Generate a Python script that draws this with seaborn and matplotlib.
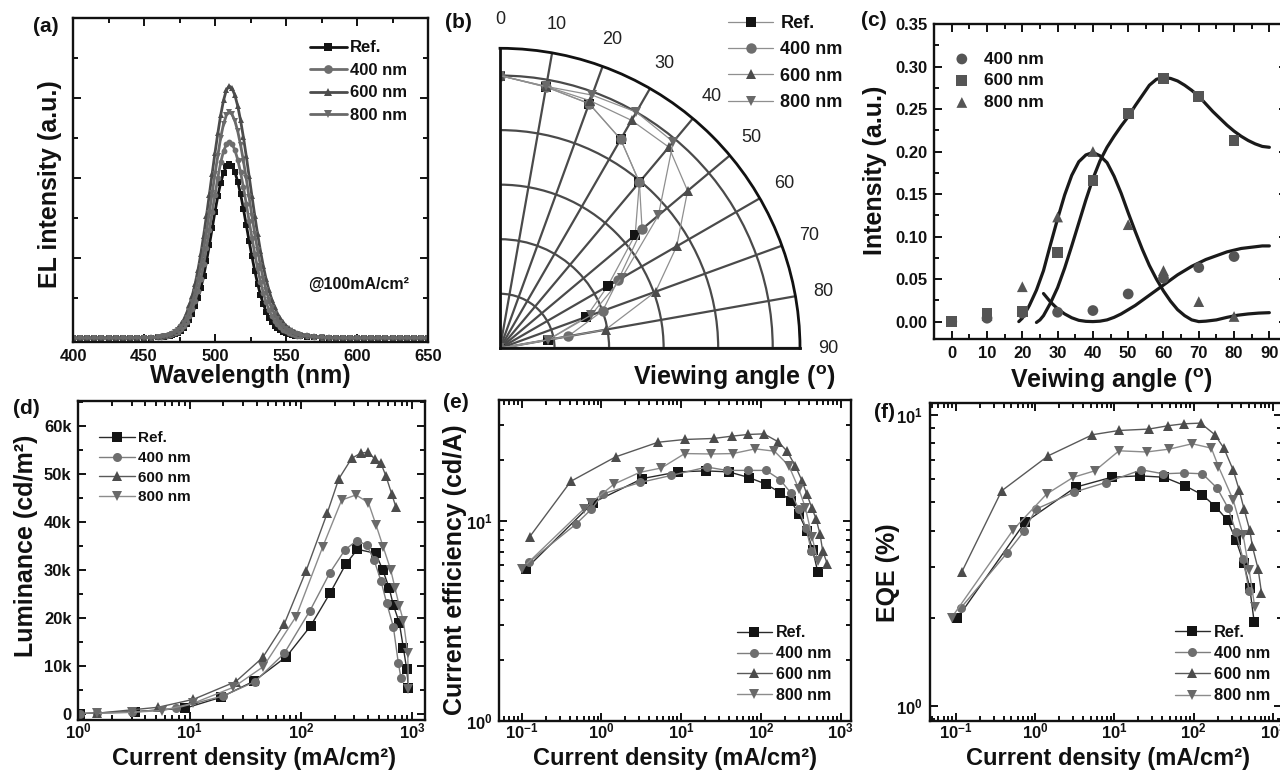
import numpy as np
import matplotlib
matplotlib.use("Agg")
import matplotlib.pyplot as plt
import seaborn as sns
from matplotlib.ticker import FixedLocator, FixedFormatter, NullFormatter, MultipleLocator, LogLocator

# ---------------------------------------------------------------- data
SERIES = ["Ref.", "400 nm", "600 nm", "800 nm"]

# (a) EL spectra @100 mA/cm2 (arbitrary units)
WL_LEFT = [400, 405, 410, 415, 420, 425, 430, 435, 440, 445, 450, 455]
WL_PEAK = [460, 462, 464, 466, 468, 470, 472, 474, 476, 478, 480, 482, 484, 486, 488, 490, 492, 494, 496,
           498, 500, 502, 504, 506, 508, 510, 512, 514, 516, 518, 520, 522, 524, 526, 528, 530, 532, 534,
           536, 538, 540, 542, 544, 546, 548, 550, 552, 554, 556, 558, 560]
WL_RIGHT = [565, 570, 575, 580, 585, 590, 595, 600, 605, 610, 615, 620, 625, 630, 635, 640, 645, 650]

EL_LEFT = {
    "Ref.":   [0.000, 0.000, 0.000, 0.000, 0.000, 0.000, 0.000, 0.000, 0.000, 0.000, 0.001, 0.001],
    "400 nm": [0.000, 0.000, 0.000, 0.000, 0.000, 0.000, 0.000, 0.000, 0.000, 0.000, 0.001, 0.001],
    "600 nm": [0.000, 0.000, 0.000, 0.000, 0.000, 0.000, 0.000, 0.000, 0.000, 0.001, 0.001, 0.002],
    "800 nm": [0.000, 0.000, 0.000, 0.000, 0.000, 0.000, 0.000, 0.000, 0.000, 0.001, 0.001, 0.001],
}
EL_PEAK = {
    "Ref.": [0.002, 0.002, 0.003, 0.004, 0.005, 0.007, 0.009, 0.012, 0.017, 0.024, 0.034, 0.046, 0.061,
             0.079, 0.100, 0.125, 0.155, 0.192, 0.232, 0.274, 0.316, 0.355, 0.388, 0.413, 0.429, 0.435,
             0.430, 0.415, 0.391, 0.360, 0.323, 0.283, 0.243, 0.204, 0.168, 0.136, 0.108, 0.085, 0.066,
             0.051, 0.040, 0.031, 0.024, 0.019, 0.015, 0.012, 0.010, 0.008, 0.006, 0.005, 0.004],
    "400 nm": [0.002, 0.003, 0.004, 0.005, 0.007, 0.009, 0.012, 0.016, 0.022, 0.030, 0.041, 0.055, 0.072,
               0.093, 0.118, 0.148, 0.184, 0.226, 0.270, 0.315, 0.358, 0.401, 0.439, 0.467, 0.484, 0.490,
               0.485, 0.470, 0.446, 0.414, 0.377, 0.336, 0.293, 0.251, 0.211, 0.174, 0.141, 0.113, 0.089,
               0.070, 0.055, 0.043, 0.034, 0.027, 0.021, 0.017, 0.013, 0.010, 0.008, 0.006, 0.005],
    "600 nm": [0.003, 0.004, 0.005, 0.007, 0.010, 0.013, 0.018, 0.025, 0.034, 0.046, 0.062, 0.082, 0.106,
               0.135, 0.170, 0.210, 0.256, 0.306, 0.358, 0.411, 0.463, 0.512, 0.557, 0.594, 0.620, 0.630,
               0.624, 0.607, 0.580, 0.544, 0.502, 0.455, 0.405, 0.355, 0.306, 0.260, 0.218, 0.180, 0.147,
               0.119, 0.096, 0.077, 0.061, 0.049, 0.039, 0.031, 0.025, 0.020, 0.016, 0.013, 0.010],
    "800 nm": [0.002, 0.003, 0.004, 0.006, 0.008, 0.011, 0.015, 0.020, 0.028, 0.038, 0.051, 0.068, 0.089,
               0.114, 0.144, 0.180, 0.221, 0.266, 0.313, 0.362, 0.410, 0.456, 0.501, 0.535, 0.557, 0.565,
               0.559, 0.543, 0.517, 0.483, 0.443, 0.399, 0.352, 0.306, 0.261, 0.219, 0.181, 0.148, 0.119,
               0.095, 0.075, 0.059, 0.047, 0.037, 0.029, 0.023, 0.018, 0.014, 0.011, 0.009, 0.007],
}
EL_RIGHT = {
    "Ref.":   [0.003, 0.002, 0.001, 0.000, 0.000, 0.000, 0.000, 0.000, 0.000, 0.000, 0.000, 0.000, 0.000, 0.000, 0.000, 0.000, 0.000, 0.000],
    "400 nm": [0.004, 0.002, 0.001, 0.000, 0.000, 0.000, 0.000, 0.000, 0.000, 0.000, 0.000, 0.000, 0.000, 0.000, 0.000, 0.000, 0.000, 0.000],
    "600 nm": [0.007, 0.004, 0.003, 0.002, 0.001, 0.000, 0.000, 0.000, 0.000, 0.000, 0.000, 0.000, 0.000, 0.000, 0.000, 0.000, 0.000, 0.000],
    "800 nm": [0.005, 0.003, 0.002, 0.001, 0.000, 0.000, 0.000, 0.000, 0.000, 0.000, 0.000, 0.000, 0.000, 0.000, 0.000, 0.000, 0.000, 0.000],
}

# (b) normalized angular intensity
ANGLES_B = [0, 10, 20, 30, 40, 50, 60, 70, 80, 90]
POLAR_B = {
    "Ref.":   [1.0, 0.973, 0.955, 0.885, 0.795, 0.647, 0.456, 0.336, 0.178, 0.0],
    "400 nm": [1.0, 0.973, 0.955, 0.885, 0.795, 0.680, 0.500, 0.400, 0.253, 0.0],
    "600 nm": [1.0, 0.975, 0.966, 0.965, 0.963, 0.898, 0.748, 0.607, 0.393, 0.0],
    "800 nm": [1.0, 0.975, 0.988, 1.000, 0.988, 0.758, 0.515, 0.355, 0.180, 0.0],
}
ANGLE_LABELS_B = [0, 10, 20, 30, 40, 50, 60, 70, 80, 90]

# (c) intensity difference vs viewing angle + fitted curves
ANGLES_C = [0, 10, 20, 30, 40, 50, 60, 70, 80]
INT_C = {
    "400 nm": [0.000, 0.004, 0.010, 0.011, 0.013, 0.0325, 0.051, 0.0635, 0.0765],
    "600 nm": [0.000, 0.0095, 0.0118, 0.081, 0.166, 0.245, 0.286, 0.265, 0.213],
    "800 nm": [0.000, 0.007, 0.041, 0.123, 0.200, 0.114, 0.060, 0.0235, 0.006],
}
FIT400_X = [26, 28, 30, 32, 34, 36, 38, 40, 42, 44, 46, 48, 50, 52, 54, 56, 58, 60, 62, 64, 66, 68, 70,
            72, 74, 76, 78, 80, 82, 84, 86, 88, 90]
FIT400_Y = [0.033, 0.023, 0.015, 0.009, 0.0045, 0.0015, 0.0003, 0.0, 0.0005, 0.002, 0.005, 0.009, 0.014,
            0.019, 0.025, 0.031, 0.037, 0.043, 0.049, 0.055, 0.060, 0.065, 0.069, 0.073, 0.076, 0.079,
            0.082, 0.084, 0.086, 0.087, 0.088, 0.089, 0.089]
FIT600_X = [24, 25, 26, 28, 30, 32, 34, 36, 38, 40, 42, 44, 46, 48, 50, 52, 54, 56, 58, 60, 62, 64, 66,
            68, 70, 72, 74, 76, 78, 80, 82, 84, 86, 88, 90]
FIT600_Y = [-0.001, 0.002, 0.007, 0.022, 0.040, 0.063, 0.089, 0.116, 0.143, 0.168, 0.189, 0.205, 0.218,
            0.230, 0.241, 0.254, 0.266, 0.278, 0.285, 0.287, 0.286, 0.283, 0.278, 0.272, 0.265, 0.256,
            0.247, 0.239, 0.231, 0.224, 0.218, 0.213, 0.209, 0.206, 0.205]
FIT800_X = [19, 20, 22, 24, 26, 28, 30, 32, 34, 36, 38, 40, 42, 44, 46, 48, 50, 52, 54, 56, 58, 60, 62,
            64, 66, 68, 70, 72, 75, 78, 81, 84, 87, 90]
FIT800_Y = [0.000, 0.004, 0.019, 0.037, 0.060, 0.091, 0.121, 0.149, 0.172, 0.188, 0.196, 0.199, 0.195,
            0.187, 0.171, 0.151, 0.128, 0.106, 0.085, 0.066, 0.050, 0.036, 0.024, 0.014, 0.007, 0.002,
            0.000, 0.0005, 0.002, 0.005, 0.0075, 0.009, 0.010, 0.0105]

# (d) luminance vs current density
LUM_X = {
    "Ref.":   [1.03, 3.2, 9.1, 19.1, 38, 74, 122, 182, 252, 321, 469, 542, 618, 675, 764, 830, 891, 923],
    "400 nm": [1.03, 1.46, 3.0, 7.5, 20, 38.6, 70.8, 120.5, 182, 248, 316, 389, 453, 523, 589, 675, 748, 791],
    "600 nm": [1.46, 5.2, 10.8, 25.9, 45.3, 70.8, 111, 172.5, 218, 285, 344, 403, 462, 520, 580, 653, 714],
    "800 nm": [1.46, 3.0, 5.6, 10.8, 24.7, 45.9, 90.2, 157, 232, 312, 403, 472, 549, 640, 700, 764, 830, 910, 923],
}
LUM_Y = {
    "Ref.":   [150, 540, 1250, 3530, 6920, 11980, 18360, 25150, 31180, 34300, 33460, 30000, 26330, 22720,
               19050, 13850, 9350, 5400],
    "400 nm": [150, 250, 400, 1250, 3800, 6780, 12680, 21550, 29450, 34160, 36100, 35200, 32080, 27710,
               23070, 18220, 10730, 7480],
    "600 nm": [200, 1450, 3100, 6780, 11800, 18800, 29800, 41900, 48900, 53200, 54300, 54500, 53000, 52300,
               49500, 45800, 43000],
    "800 nm": [200, 400, 750, 2290, 5610, 9900, 20300, 34850, 44550, 45600, 44000, 39360, 34710, 30000,
               26190, 22520, 19470, 12680, 5190],
}
LUM_TICKS = [0, 10000, 20000, 30000, 40000, 50000, 60000]
LUM_TICK_LABELS = ["0", "10k", "20k", "30k", "40k", "50k", "60k"]

# (e) current efficiency
CE_X = {
    "Ref.":   [0.113, 0.789, 3.27, 9.12, 20.3, 39.7, 70.6, 116, 174, 239, 299, 376, 447, 516],
    "400 nm": [0.123, 0.479, 0.751, 1.05, 3.08, 7.54, 21.0, 37.5, 68.7, 116, 174, 239, 299, 369, 430],
    "600 nm": [0.127, 0.414, 1.51, 5.13, 11.1, 25.5, 43.6, 68.7, 109, 166, 213, 271, 328, 376, 438, 492,
               552, 596, 682],
    "800 nm": [0.100, 0.608, 0.751, 1.44, 3.03, 5.65, 11.1, 23.9, 44.6, 84.7, 148, 224, 299, 361, 438, 516],
}
CE_Y = {
    "Ref.":   [5.73, 12.3, 16.2, 17.5, 17.7, 17.5, 16.4, 15.2, 13.8, 12.5, 10.8, 8.88, 7.13, 5.55],
    "400 nm": [6.18, 9.59, 11.4, 13.6, 15.5, 16.8, 18.5, 17.8, 17.8, 17.8, 16.0, 13.7, 11.4, 9.16, 7.07],
    "600 nm": [8.32, 15.7, 20.8, 24.6, 25.4, 25.7, 26.4, 26.9, 27.1, 24.7, 22.2, 18.7, 15.8, 13.6, 11.5,
               10.2, 8.55, 7.05, 6.06],
    "800 nm": [5.73, 11.45, 12.3, 15.2, 17.4, 18.3, 21.6, 21.5, 21.6, 22.8, 22.2, 18.8, 14.4, 11.6, 8.32, 6.28],
}

# (f) EQE
EQE_X = {
    "Ref.":   [0.104, 0.741, 3.23, 9.18, 20.9, 42.4, 77.3, 128, 188, 267, 340, 429, 510, 578],
    "400 nm": [0.115, 0.444, 0.727, 1.02, 3.08, 7.71, 21.9, 41.2, 75, 129, 197, 272, 340, 420, 500],
    "600 nm": [0.118, 0.377, 1.46, 5.28, 11.4, 27.2, 47.6, 75, 122, 185, 240, 314, 374, 432, 510, 550, 650, 716],
    "800 nm": [0.088, 0.528, 1.39, 3.02, 5.66, 11.4, 25.4, 49, 95.5, 167, 205, 314, 420, 500, 589],
}
EQE_Y = {
    "Ref.":   [2.00, 4.27, 5.64, 6.10, 6.17, 6.10, 5.71, 5.31, 4.84, 4.34, 3.72, 3.09, 2.54, 1.95],
    "400 nm": [2.17, 3.36, 3.99, 4.74, 5.42, 5.85, 6.47, 6.27, 6.31, 6.27, 5.60, 4.78, 3.97, 3.19, 2.49],
    "600 nm": [2.88, 5.48, 7.23, 8.54, 8.83, 8.93, 9.17, 9.31, 9.36, 8.54, 7.68, 6.47, 5.52, 4.74, 4.01,
               3.53, 2.95, 2.45],
    "800 nm": [2.01, 4.03, 5.34, 6.10, 6.42, 7.52, 7.45, 7.62, 7.95, 7.68, 6.64, 5.11, 3.87, 2.93, 2.19],
}

LOG_DECADES_D = [1, 10, 100, 1000]
LOG_DECADES_EF = [0.1, 1, 10, 100, 1000]
LOG_SUBS = [2, 3, 4, 5, 6, 7, 8, 9]

# ---------------------------------------------------------------- style
MARKERS = {"Ref.": "s", "400 nm": "o", "600 nm": "^", "800 nm": "v"}
MCOL = {"Ref.": "#141414", "400 nm": "#6e6e6e", "600 nm": "#4c4c4c", "800 nm": "#696969"}
LCOL = {"Ref.": "#2a2a2a", "400 nm": "#7e7e7e", "600 nm": "#595959", "800 nm": "#8c8c8c"}
C_MARKERS = {"400 nm": "o", "600 nm": "s", "800 nm": "^"}

sns.set_theme(style="ticks")
plt.rcParams.update({
    "font.family": ["Liberation Sans", "DejaVu Sans"],
    "font.weight": "bold",
    "axes.labelweight": "bold",
    "mathtext.fontset": "custom",
    "mathtext.rm": "Liberation Sans",
    "mathtext.bf": "Liberation Sans:bold",
    "mathtext.it": "Liberation Sans:italic",
    "mathtext.sf": "Liberation Sans",
    "axes.edgecolor": "#111111",
    "text.color": "#111111",
    "axes.labelcolor": "#111111",
    "xtick.color": "#111111",
    "ytick.color": "#111111",
})

W, H = 1280, 771
fig = plt.figure(figsize=(W / 100, H / 100), dpi=100)
BOXES = {}


def px_axes(key, l, t, r, b, **kw):
    BOXES[key] = (l, t, r, b)
    return fig.add_axes([l / W, 1 - b / H, (r - l) / W, (b - t) / H], **kw)


def style(ax, xpad=5):
    for s in ax.spines.values():
        s.set_linewidth(1.7)
        s.set_color("#111111")
    ax.tick_params(which="both", direction="in", top=True, right=True, width=1.4,
                   labelsize=12, pad=5)
    ax.tick_params(axis="x", which="both", pad=xpad)
    ax.tick_params(which="major", length=6)
    ax.tick_params(which="minor", length=3.5)


def xlabel_px(ax, key, text, top, cx, size=17.5):
    l, t, r, b = BOXES[key]
    ax.set_xlabel(text, fontsize=size, fontweight="bold")
    ax.xaxis.set_label_coords((cx - l) / (r - l), (b - top) / (b - t))


def ylabel_px(ax, key, text, right, cy, size=18):
    l, t, r, b = BOXES[key]
    ax.set_ylabel(text, fontsize=size, fontweight="bold")
    ax.yaxis.set_label_coords((right - l) / (r - l), (b - cy) / (b - t))


def series(ax, x, y, name, ms, lw, lcol):
    sns.lineplot(x=x, y=y, ax=ax, sort=False, estimator=None, color=lcol, linewidth=lw,
                 marker=MARKERS[name], markersize=ms, markerfacecolor=MCOL[name],
                 markeredgecolor=MCOL[name], markeredgewidth=0, label=name)


def log_labels(vals):
    out = []
    for v in vals:
        e = int(round(np.log10(v)))
        out.append(r"$\mathbf{10^{%d}}$" % e)
    return out


def log_axis(axis, majors):
    axis.set_major_locator(FixedLocator(majors))
    axis.set_major_formatter(FixedFormatter(log_labels(majors)))
    axis.set_minor_locator(LogLocator(base=10, subs=LOG_SUBS, numticks=20))
    axis.set_minor_formatter(NullFormatter())


def legend(ax, x, y, size, hl, htp, ls, ms_scale=1.0):
    ax.legend(loc="upper left", bbox_to_anchor=(x, y), frameon=False,
              handlelength=hl, handletextpad=htp, labelspacing=ls, borderpad=0,
              borderaxespad=0, markerscale=ms_scale, prop={"weight": "bold", "size": size})


# ---------------------------------------------------------------- (a)
axa = px_axes("a", 73, 18, 428, 342)
for name in SERIES:
    wl = WL_LEFT + WL_PEAK + WL_RIGHT
    el = EL_LEFT[name] + EL_PEAK[name] + EL_RIGHT[name]
    series(axa, wl, el, name, ms=4.2, lw=2.0, lcol=MCOL[name])
axa.set_xlim(400, 650)
axa.set_ylim(-0.01, 0.8)
axa.xaxis.set_major_locator(MultipleLocator(50))
axa.xaxis.set_minor_locator(MultipleLocator(25))
axa.yaxis.set_major_locator(MultipleLocator(0.2))
axa.yaxis.set_minor_locator(MultipleLocator(0.1))
axa.set_yticklabels([])
style(axa)
xlabel_px(axa, "a", "Wavelength (nm)", 364, 250, 18)
ylabel_px(axa, "a", "EL intensity (a.u.)", 62, 184, 18)
legend(axa, 0.668, 0.931, 12, 2.2, 0.2, 0.45, 1.5)
axa.text(0.662, 0.176, "@100mA/cm²", transform=axa.transAxes, fontsize=11.5,
         fontweight="bold", ha="left", va="center")

# ---------------------------------------------------------------- (b)
axb = px_axes("b", 500, 48.3, 800, 348.3, projection="polar")
axb.set_theta_zero_location("N")
axb.set_theta_direction(-1)
axb.set_thetamin(0)
axb.set_thetamax(90)
for name in SERIES:
    sns.lineplot(x=np.deg2rad(ANGLES_B), y=POLAR_B[name], ax=axb, sort=False, estimator=None,
                 color="#8f8f8f", linewidth=0.9, marker=MARKERS[name], markersize=7.5,
                 markerfacecolor=MCOL[name], markeredgecolor=MCOL[name], markeredgewidth=0,
                 label=name)
axb.set_rlim(0, 1.1)
axb.set_xticks(np.deg2rad(ANGLE_LABELS_B))
axb.set_xticks(np.deg2rad([5, 15, 25, 35, 45, 55, 65, 75, 85]), minor=True)
axb.set_yticks([0.2, 0.4, 0.6, 0.8, 1.0])
axb.set_xticklabels([])
axb.set_yticklabels([])
axb.set_xlabel("")
axb.set_ylabel("")
axb.grid(True, which="major", color="#4a4a4a", linewidth=1.6)
axb.tick_params(axis="x", which="both", direction="in", width=1.4, colors="#111111")
axb.tick_params(axis="x", which="major", length=0)
axb.tick_params(axis="x", which="minor", length=6)
axb.tick_params(axis="y", length=0)
for sp in ["polar", "start", "end"]:
    axb.spines[sp].set_linewidth(2.0)
    axb.spines[sp].set_color("#111111")
for a in ANGLE_LABELS_B:
    axb.text(np.deg2rad(a), 1.205, str(a), ha="center", va="center", fontsize=13,
             fontweight="normal", color="#222222", clip_on=False)
hb, lb = axb.get_legend_handles_labels()
if axb.get_legend() is not None:
    axb.get_legend().remove()
fig.legend(hb, lb, loc="upper left", bbox_to_anchor=(728 / W, 1 - 15 / H), frameon=False,
           handlelength=2.5, handletextpad=0.4, labelspacing=0.52, borderpad=0,
           borderaxespad=0, prop={"weight": "bold", "size": 13})
fig.text(734 / W, 1 - 378 / H, r"Viewing angle ($^{\mathrm{o}}$)", ha="center", va="center",
         fontsize=18, fontweight="bold")

# ---------------------------------------------------------------- (c)
axc = px_axes("c", 934.1, 24, 1287, 338.6)
sns.lineplot(x=FIT400_X, y=FIT400_Y, ax=axc, sort=False, estimator=None, color="#1a1a1a",
             linewidth=2.3, legend=False, label="_nolegend_")
sns.lineplot(x=FIT600_X, y=FIT600_Y, ax=axc, sort=False, estimator=None, color="#1a1a1a",
             linewidth=2.3, legend=False, label="_nolegend_")
sns.lineplot(x=FIT800_X, y=FIT800_Y, ax=axc, sort=False, estimator=None, color="#1a1a1a",
             linewidth=2.3, legend=False, label="_nolegend_")
for name in ["400 nm", "600 nm", "800 nm"]:
    sns.scatterplot(x=ANGLES_C, y=INT_C[name], ax=axc, marker=C_MARKERS[name], s=60,
                    color="#555555", edgecolor="none", linewidth=0, label=name, zorder=3)
axc.set_xlim(-5, 95)
axc.set_ylim(-0.02, 0.35)
axc.xaxis.set_major_locator(FixedLocator([0, 10, 20, 30, 40, 50, 60, 70, 80, 90]))
axc.xaxis.set_minor_locator(MultipleLocator(5))
axc.yaxis.set_major_locator(MultipleLocator(0.05))
axc.yaxis.set_minor_locator(MultipleLocator(0.025))
axc.yaxis.set_major_formatter(matplotlib.ticker.FormatStrFormatter("%.2f"))
style(axc)
xlabel_px(axc, "c", r"Veiwing angle ($^{\mathrm{o}}$)", 366, 1111, 18)
ylabel_px(axc, "c", "Intensity (a.u.)", 887, 170, 18)
axc.legend(loc="upper left", bbox_to_anchor=(0.054, 0.913), frameon=False, handlelength=1.0,
           handletextpad=0.8, labelspacing=0.38, borderpad=0, borderaxespad=0, scatterpoints=1,
           prop={"weight": "bold", "size": 12.5})

# ---------------------------------------------------------------- (d)
axd = px_axes("d", 78.4, 400.7, 425, 720)
axd.set_xscale("log")
for name in SERIES:
    series(axd, LUM_X[name], LUM_Y[name], name, ms=6.5, lw=1.0, lcol=LCOL[name])
axd.set_xlim(1, 1300)
axd.set_ylim(-1200, 65200)
log_axis(axd.xaxis, LOG_DECADES_D)
axd.yaxis.set_major_locator(FixedLocator(LUM_TICKS))
axd.yaxis.set_major_formatter(FixedFormatter(LUM_TICK_LABELS))
axd.yaxis.set_minor_locator(MultipleLocator(5000))
style(axd, xpad=0.8)
xlabel_px(axd, "d", "Current density (mA/cm²)", 742, 254, 17)
ylabel_px(axd, "d", "Luminance (cd/m²)", 38, 546)
legend(axd, 0.060, 0.904, 11, 2.33, 0.2, 0.37)

# ---------------------------------------------------------------- (e)
axe = px_axes("e", 499.3, 400, 851, 720.7)
axe.set_xscale("log")
axe.set_yscale("log")
for name in SERIES:
    series(axe, CE_X[name], CE_Y[name], name, ms=6.5, lw=1.0, lcol=LCOL[name])
axe.set_xlim(0.0525, 1350)
axe.set_ylim(1, 40)
log_axis(axe.xaxis, LOG_DECADES_EF)
log_axis(axe.yaxis, [1, 10])
style(axe, xpad=0.8)
xlabel_px(axe, "e", "Current density (mA/cm²)", 742, 675, 17)
ylabel_px(axe, "e", "Current efficiency (cd/A)", 467, 570)
legend(axe, 0.675, 0.297, 11.5, 2.2, 0.27, 0.36)

# ---------------------------------------------------------------- (f)
axf = px_axes("f", 930, 402.7, 1282, 720.7)
axf.set_xscale("log")
axf.set_yscale("log")
for name in SERIES:
    series(axf, EQE_X[name], EQE_Y[name], name, ms=6.5, lw=1.0, lcol=LCOL[name])
axf.set_xlim(0.047, 1300)
axf.set_ylim(0.89, 11)
log_axis(axf.xaxis, LOG_DECADES_EF)
log_axis(axf.yaxis, [1, 10])
style(axf, xpad=0.8)
xlabel_px(axf, "f", "Current density (mA/cm²)", 742, 1108, 17)
ylabel_px(axf, "f", "EQE (%)", 900, 573)
legend(axf, 0.696, 0.3007, 11.8, 2.13, 0.24, 0.37)

# ---------------------------------------------------------------- panel letters
for txt, x, y in [("(a)", 33, 26.5), ("(b)", 445, 22.5), ("(c)", 861, 21),
                  ("(d)", 13, 409), ("(e)", 443, 402.5), ("(f)", 874, 412)]:
    fig.text(x / W, 1 - y / H, txt, ha="left", va="center", fontsize=15, fontweight="bold")

# ---------------------------------------------------------------- keep bottom labels inside the canvas
fig.canvas.draw()
renderer = fig.canvas.get_renderer()
for ax in (axd, axe, axf):
    lab = ax.xaxis.label
    for _ in range(6):
        bb = lab.get_window_extent(renderer)
        tick_bottom = min(tl.get_window_extent(renderer).y0
                          for tl in ax.get_xticklabels() if tl.get_text())
        new_top = bb.y1 + (1.5 - bb.y0)
        if new_top <= tick_bottom:
            cx_ax = ax.transAxes.inverted().transform((bb.x0 + bb.width / 2, 0))[0]
            top_ax = ax.transAxes.inverted().transform((0, new_top))[1]
            ax.xaxis.set_label_coords(cx_ax, top_ax)
            break
        lab.set_fontsize(lab.get_fontsize() - 0.5)
        fig.canvas.draw()

fig.savefig("out.png", dpi=100, facecolor="white")
